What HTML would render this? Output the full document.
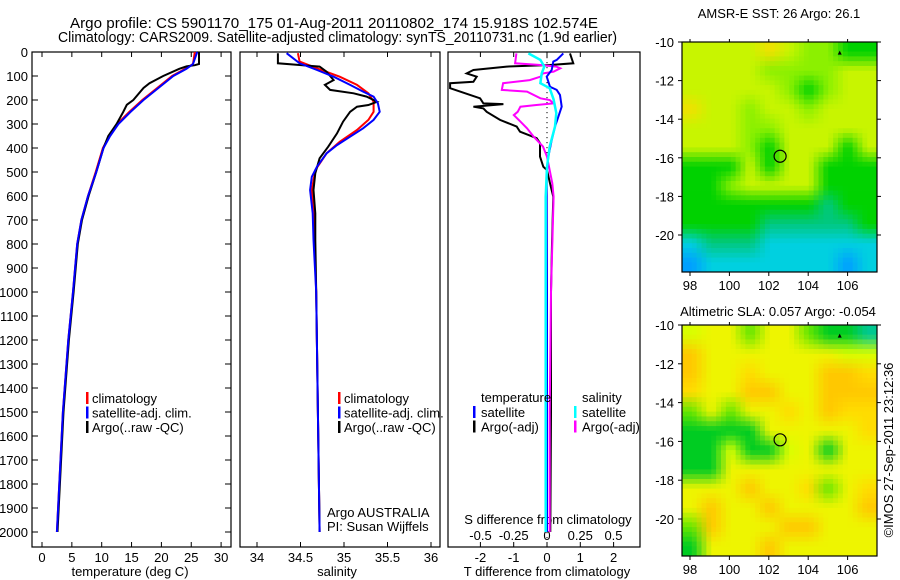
<!DOCTYPE html>
<html><head><meta charset="utf-8"><style>
body{margin:0;background:#fff}
svg{display:block;font-family:"Liberation Sans",sans-serif}
text{font-size:13px;fill:#000}
</style></head><body>
<svg id="s" width="900" height="580">
<text x="70" y="28" style="font-size:15px" textLength="528" lengthAdjust="spacingAndGlyphs">Argo profile: CS 5901170_175 01-Aug-2011 20110802_174 15.918S 102.574E</text>
<text x="58" y="42" style="font-size:15px" textLength="559" lengthAdjust="spacingAndGlyphs">Climatology: CARS2009. Satellite-adjusted climatology: synTS_20110731.nc (1.9d earlier)</text>
<text x="779" y="18" text-anchor="middle">AMSR-E SST: 26 Argo: 26.1</text>
<text x="778" y="316" text-anchor="middle">Altimetric SLA: 0.057 Argo: -0.054</text>
<text transform="translate(893,450) rotate(-90)" text-anchor="middle">©IMOS 27-Sep-2011 23:12:36</text>
<g id="maps"></g>
<g id="plots"></g>
</svg>
<script>
// ---- Temperature panel data ----
const tDepClim=[0,50,70,100,150,200,250,300,350,400,500,600,700,800,1000,1200,1500,2000];
const tClim=[25.6,25.3,24.0,21.8,19.3,16.8,14.6,12.6,11.3,10.2,9.0,7.7,6.6,5.9,5.2,4.4,3.5,2.5];
const tSat=[26,25.3,24.2,22,19.5,17,14.8,12.8,11.4,10.3,9.1,7.7,6.6,5.9,5.2,4.4,3.5,2.5];
const tDepArgo=[0,50,55,60,70,100,130,150,200,220,250,300,350,400,500,600,700,800,1000,1200,1500,2000];
const tArgo=[26.3,26.3,25.6,24.2,23,20.3,18,17,15.3,14.2,13.6,12.5,11.1,10.3,9.1,7.8,6.7,6.0,5.3,4.5,3.6,2.6];
// ---- Salinity panel data ----
const sDepSat=[5,47,75,103,137,165,186,214,249,283,318,353,388,422,478,520,575,672,783,1000,1500,2000];
const sSat=[34.34,34.49,34.69,34.88,35.07,35.22,35.34,35.39,35.41,35.34,35.22,35.07,34.92,34.80,34.69,34.63,34.61,34.64,34.65,34.68,34.70,34.72];
const sDepClim=[5,40,68,103,137,172,207,249,283,325,374,422,492,575,672,783,1000,1500,2000];
const sClim=[34.47,34.49,34.69,34.95,35.15,35.28,35.34,35.34,35.28,35.15,34.95,34.80,34.67,34.63,34.65,34.66,34.68,34.70,34.72];
const sDepArgo=[5,47,54,61,82,117,137,158,172,186,207,221,228,249,290,339,394,443,505,575,672,783,1000,1500,2000];
const sArgo=[34.24,34.24,34.49,34.72,34.80,34.88,34.78,34.84,35.11,35.26,35.38,35.28,35.15,35.07,34.99,34.92,34.82,34.72,34.67,34.65,34.67,34.67,34.68,34.70,34.72];
// ---- Difference panel data ----
const dDepTArgo=[6,47,54,61,75,89,103,124,130,151,165,193,214,217,228,235,249,283,311,332,359,380,436,478,492,547,603,800,1000,1500,2000];
const dTArgo=[0.69,0.79,0.09,-1.21,-2.21,-2.41,-2.11,-2.21,-2.91,-2.91,-2.61,-2.01,-1.91,-1.31,-2.21,-1.91,-1.81,-1.41,-0.91,-0.81,-0.31,-0.21,-0.21,-0.11,0,0.09,0.19,0.15,0.12,0.12,0.1];
const dDepTSat=[6,33,40,75,103,145,158,179,228,270,311,367,436,505,603,1000,2000];
const dTSat=[0.49,0.29,0.19,0.14,-0.01,0.09,0.29,0.39,0.44,0.34,0.24,0.14,0.04,-0.01,-0.01,0,0];
const dDepSSat=[6,33,61,89,130,151,198,254,311,394,478,603,1000,1500,2000];
const dSSat=[-0.14,-0.05,-0.02,-0.04,-0.05,0.02,0.05,0.07,0.06,0.02,0,-0.01,-0.01,-0.01,-0.01];
const dDepSArgo=[6,47,54,61,68,82,89,103,117,130,158,165,193,200,214,221,228,249,263,290,318,353,394,436,547,603,1000,1500,2000];
const dSArgo=[-0.23,-0.24,-0.05,0.07,0.10,0.05,-0.03,-0.05,-0.13,-0.33,-0.34,-0.15,-0.05,0.02,0.05,-0.08,-0.20,-0.22,-0.25,-0.20,-0.15,-0.10,-0.03,0,0.04,0.05,0.03,0.02,0.02];
// ---- Map grids (rows -10..-22 lat, cols 97.6..107.5 lon) ----
const sstGrid=["YYYYOYggGG","YYYYggggYY","YYYYYgGgYY","OYYgYYgYYY","YYYggYYYYY","YYYgGYYYGY","GGGYGYYGGG","GGgYYYYGGG","GGGGGGGCGG","GGGGCCCCCG","cCCCcccccc","bcccccccbc"];
const slaGrid=["YyygyygGGC","OyyyyyyyYY","OyyoyyyOOo","oyyOOyyOOO","gygyyoyOoo","GGGGyyyyyo","GGYGGYyGyy","GGyyyyyyyy","yyyOyyogyo","yOyyOyyyyO","gOyyyOOyyy","GyyyOyyyyy"];
const sstCol={Y:"#c8f500",O:"#f0e000",g:"#8cf000",G:"#00d200",C:"#00c880",c:"#00d0e0",b:"#00a0ff"};
const slaCol={Y:"#d8ff00",y:"#eef500",O:"#ffc800",o:"#ffdc00",g:"#66e600",G:"#00cc22",C:"#00c890"};
const mapLonTicks=[98,100,102,104,106];
const mapLatTicks=[-10,-12,-14,-16,-18,-20];
const floatLon=102.574, floatLat=-15.918;

const NS="http://www.w3.org/2000/svg";
const S=document.getElementById('s');
function mk(tag,at,par){const e=document.createElementNS(NS,tag);for(const k in at)e.setAttribute(k,at[k]);(par||S).appendChild(e);return e;}
function txt(x,y,s,anchor,par){const e=mk('text',{x:x,y:y,'text-anchor':anchor||'start'},par);e.textContent=s;return e;}

const yD=d=>52+d*0.24;
const xT=t=>42+t*5.97;
const xS=s=>257+(s-34)*87;
const xDT=t=>547+t*33.3;
const xDS=s=>547+s*133;

function line(xs,ys,fx,col,name,w){
  const pts=xs.map((v,i)=>fx(v).toFixed(1)+','+yD(ys[i]).toFixed(1)).join(' ');
  const p=mk('polyline',{points:pts,fill:'none',stroke:col,'stroke-width':w||2,'stroke-linejoin':'miter'});
  
  
}
function frame(x0,x1,name){
  const r=mk('rect',{x:x0,y:52,width:x1-x0,height:495,fill:'none',stroke:'#000','stroke-width':1.2});
  
  
}
// Panel 1
frame(32,231,'temperature-panel');
for(let d=0;d<=2000;d+=100){const y=yD(d);
  mk('line',{x1:32,y1:y,x2:38,y2:y,stroke:'#000'});mk('line',{x1:225,y1:y,x2:231,y2:y,stroke:'#000'});
  const t=txt(28,y+5,String(d),'end');
  
  
}
for(let v=0;v<=30;v+=5){const x=xT(v);mk('line',{x1:x,y1:52,x2:x,y2:57,stroke:'#000'});mk('line',{x1:x,y1:542,x2:x,y2:547,stroke:'#000'});
  const t=txt(x,562,String(v),'middle');}
txt(130,576,'temperature (deg C)','middle');
line(tClim,tDepClim,xT,'#f00','temp-climatology-line');
line(tArgo,tDepArgo,xT,'#000','temp-argo-line');
line(tSat,tDepClim,xT,'#00f','temp-satellite-line');
// Panel 2
frame(240,440,'salinity-panel');
for(let v=34;v<=36;v+=0.5){const x=xS(v);mk('line',{x1:x,y1:52,x2:x,y2:57,stroke:'#000'});mk('line',{x1:x,y1:542,x2:x,y2:547,stroke:'#000'});
  const t=txt(x,562,String(v),'middle');}
txt(337,576,'salinity','middle');
line(sClim,sDepClim,xS,'#f00','sal-climatology-line');
line(sArgo,sDepArgo,xS,'#000','sal-argo-line');
line(sSat,sDepSat,xS,'#00f','sal-satellite-line');
txt(327,517,'Argo AUSTRALIA');txt(327,531,'PI: Susan Wijffels');
// Legends
function legend(x,items,name){items.forEach((it,i)=>{const y=398+i*14.5;
  const b=mk('rect',{x:x,y:y-6,width:2.5,height:12,fill:it[0]});
  
  
  txt(x+6,y+5,it[1]);});}
legend(86,[['#f00','climatology'],['#00f','satellite-adj. clim.'],['#000','Argo(..raw -QC)']],'temp-legend');
legend(338,[['#f00','climatology'],['#00f','satellite-adj. clim.'],['#000','Argo(..raw -QC)']],'sal-legend');
// Panel 3
frame(448,640,'difference-panel');
for(let y=52;y<547;y+=5)mk('rect',{x:546.5,y:y,width:1,height:1.2,fill:'#000'});
[-2,-1,0,1,2].forEach(v=>{const x=xDT(v);mk('line',{x1:x,y1:52,x2:x,y2:57,stroke:'#000'});mk('line',{x1:x,y1:542,x2:x,y2:547,stroke:'#000'});
  const t=txt(x,562,String(v),'middle');});
[-0.5,-0.25,0,0.25,0.5].forEach(v=>{const t=txt(xDS(v),540,String(v),'middle');});
txt(548,524,'S difference from climatology','middle');
txt(547,576,'T difference from climatology','middle');
line(dTArgo,dDepTArgo,xDT,'#000','tdiff-argo-line');
line(dSArgo,dDepSArgo,xDS,'#f0f','sdiff-argo-line');
line(dTSat,dDepTSat,xDT,'#00f','tdiff-satellite-line');
line(dSSat,dDepSSat,xDS,'#0ff','sdiff-satellite-line',2.5);
txt(481,402,'temperature');txt(582,402,'salinity');
[['#00f','satellite',473],['#000','Argo(-adj)',473],['#0ff','satellite',574],['#f0f','Argo(-adj)',574]].forEach((it,i)=>{
  const y=412+(i%2)*14.5;const b=mk('rect',{x:it[2],y:y-6,width:2.5,height:12,fill:it[0]});
  
  txt(it[2]+8,y+5,it[1]);});
// Maps
const MG=document.getElementById('maps');
function hex(h){return [1,3,5].map(i=>parseInt(h.substr(i,2),16));}
function drawMap(grid,cols,top,h,scaleY,name){
  const g=mk('g',{},MG);
  const x0=682,x1=877,NC=10,NR=12,SUB=4,cw=(x1-x0)/NC/SUB,ch=h/NR/SUB;
  const C=(r,c)=>{r=Math.max(0,Math.min(NR-1,r));c=Math.max(0,Math.min(NC-1,c));return hex(cols[grid[r][c]]||'#eef500');};
  for(let i=0;i<NR*SUB;i++)for(let j=0;j<NC*SUB;j++){
    const fr=(i+0.5)/SUB-0.5, fc=(j+0.5)/SUB-0.5;
    const r0=Math.floor(fr),c0=Math.floor(fc),ar=fr-r0,ac=fc-c0;
    const a=C(r0,c0),b=C(r0,c0+1),c=C(r0+1,c0),d=C(r0+1,c0+1);
    const col=[0,1,2].map(k=>Math.round(a[k]*(1-ar)*(1-ac)+b[k]*(1-ar)*ac+c[k]*ar*(1-ac)+d[k]*ar*ac));
    mk('rect',{x:(x0+j*cw).toFixed(2),y:(top+i*ch).toFixed(2),width:cw+0.4,height:ch+0.4,fill:`rgb(${col})`},g);
  }
  mk('rect',{x:x0,y:top,width:x1-x0,height:h,fill:'none',stroke:'#000','stroke-width':1.2},g);
  const lx=L=>690+(L-98)*19.7, ly=la=>top+(-10-la)*scaleY;
  mapLonTicks.forEach(L=>{const x=lx(L);mk('line',{x1:x,y1:top-3,x2:x,y2:top,stroke:'#000'},g);mk('line',{x1:x,y1:top+h,x2:x,y2:top+h+4,stroke:'#000'},g);txt(x,top+h+18,String(L),'middle',g);});
  mapLatTicks.forEach(la=>{const y=ly(la);mk('line',{x1:x0-4,y1:y,x2:x0,y2:y,stroke:'#000'},g);mk('line',{x1:x1,y1:y,x2:x1+4,y2:y,stroke:'#000'},g);txt(x0-8,y+5,String(la),'end',g);});
  const c=mk('circle',{cx:lx(floatLon),cy:ly(floatLat),r:6,fill:'none',stroke:'#000','stroke-width':1.2},g);
  
  mk('path',{d:`M${lx(105.6)-2},${ly(-10.55)+2} L${lx(105.6)},${ly(-10.55)-2} L${lx(105.6)+2},${ly(-10.55)+2}Z`,fill:'#000'},g);
}
drawMap(sstGrid,sstCol,42,230,19.3,'sst-map');
drawMap(slaGrid,slaCol,325,231,19.4,'sla-map');
</script>
</body></html>
